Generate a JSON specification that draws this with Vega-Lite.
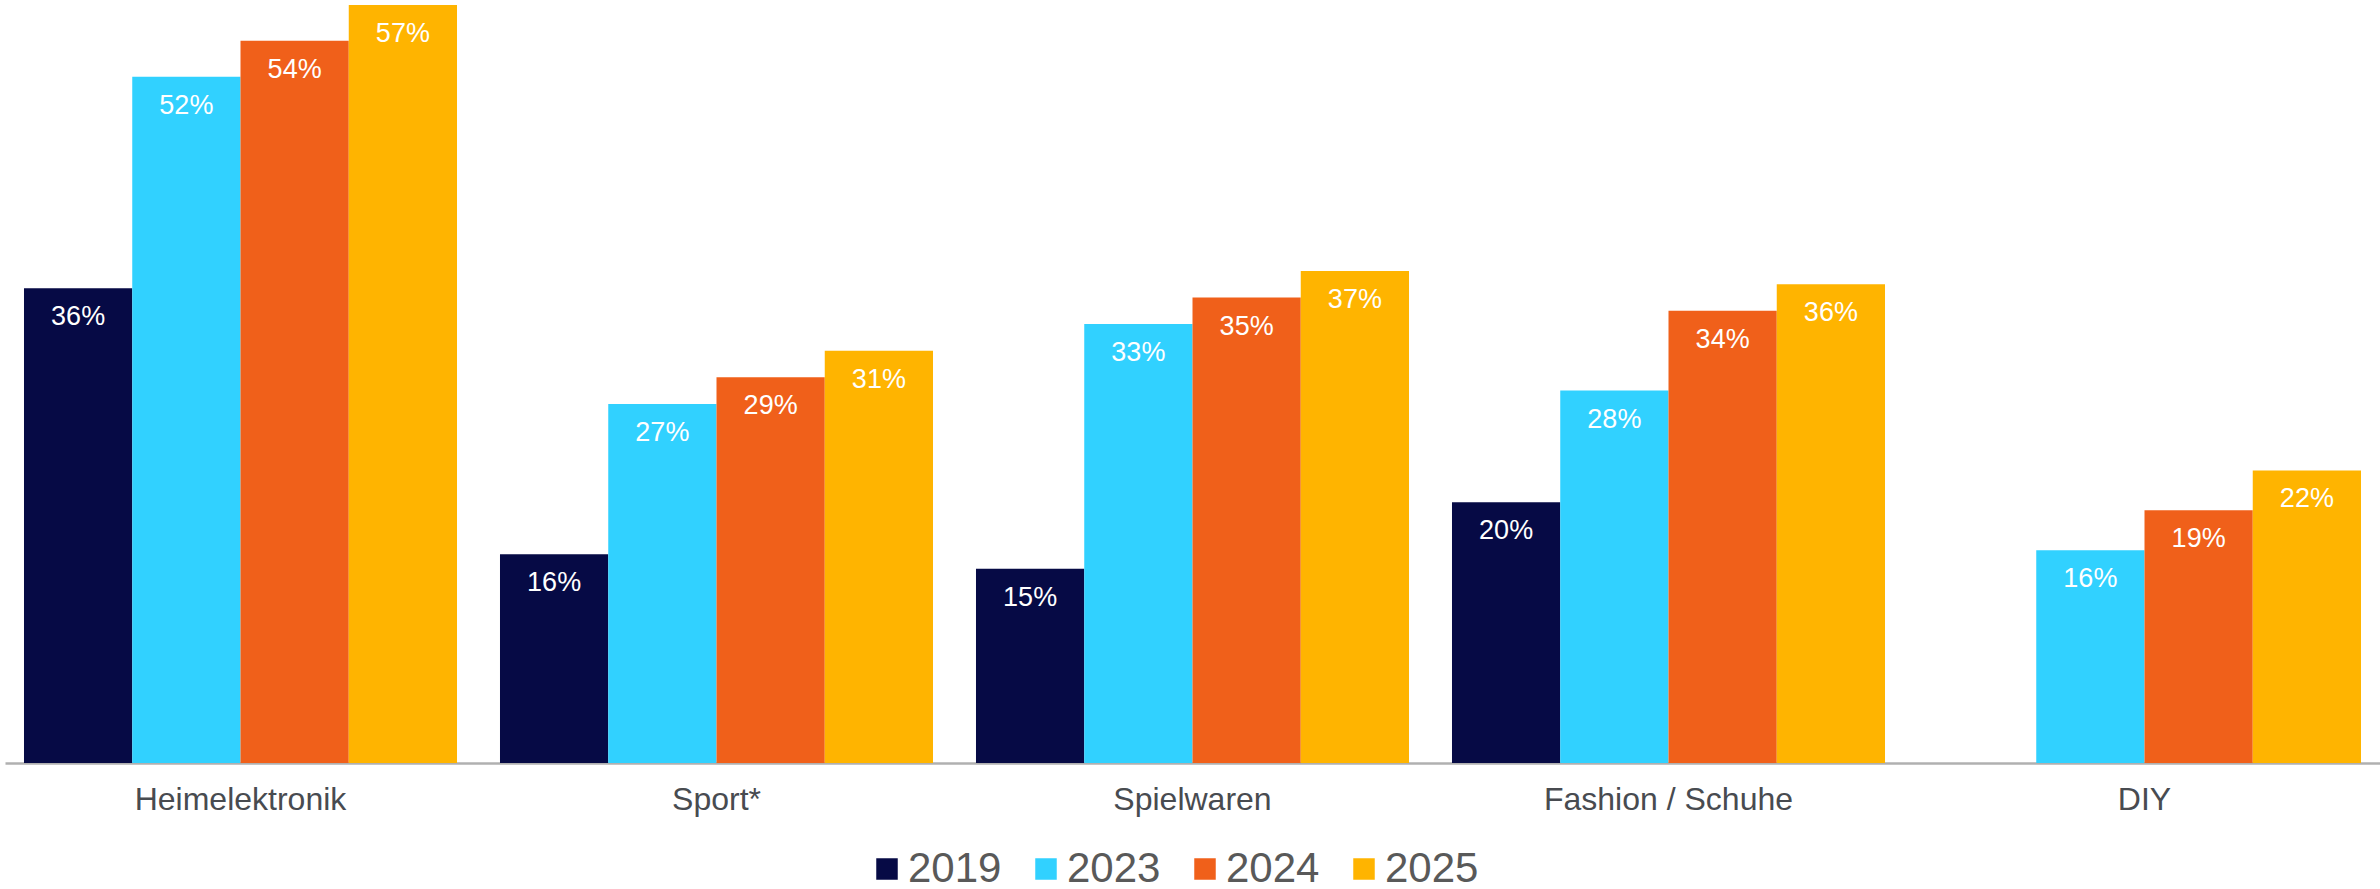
{
  "$schema": "https://vega.github.io/schema/vega-lite/v6.json",
  "width": 2375,
  "height": 763,
  "padding": {"left": 5, "top": 0, "right": 0, "bottom": 0},
  "background": "white",
  "data": {
    "values": [
      {"kategorie": "Heimelektronik", "jahr": "2019", "anteil": 0.357},
      {"kategorie": "Heimelektronik", "jahr": "2023", "anteil": 0.516},
      {"kategorie": "Heimelektronik", "jahr": "2024", "anteil": 0.543},
      {"kategorie": "Heimelektronik", "jahr": "2025", "anteil": 0.570},
      {"kategorie": "Sport*", "jahr": "2019", "anteil": 0.157},
      {"kategorie": "Sport*", "jahr": "2023", "anteil": 0.270},
      {"kategorie": "Sport*", "jahr": "2024", "anteil": 0.290},
      {"kategorie": "Sport*", "jahr": "2025", "anteil": 0.310},
      {"kategorie": "Spielwaren", "jahr": "2019", "anteil": 0.146},
      {"kategorie": "Spielwaren", "jahr": "2023", "anteil": 0.330},
      {"kategorie": "Spielwaren", "jahr": "2024", "anteil": 0.350},
      {"kategorie": "Spielwaren", "jahr": "2025", "anteil": 0.370},
      {"kategorie": "Fashion / Schuhe", "jahr": "2019", "anteil": 0.196},
      {"kategorie": "Fashion / Schuhe", "jahr": "2023", "anteil": 0.280},
      {"kategorie": "Fashion / Schuhe", "jahr": "2024", "anteil": 0.340},
      {"kategorie": "Fashion / Schuhe", "jahr": "2025", "anteil": 0.360},
      {"kategorie": "DIY", "jahr": "2023", "anteil": 0.160},
      {"kategorie": "DIY", "jahr": "2024", "anteil": 0.190},
      {"kategorie": "DIY", "jahr": "2025", "anteil": 0.220}
    ]
  },
  "encoding": {
    "x": {
      "field": "kategorie",
      "type": "nominal",
      "sort": ["Heimelektronik", "Sport*", "Spielwaren", "Fashion / Schuhe", "DIY"],
      "scale": {"paddingInner": 0.0903, "paddingOuter": 0.0399},
      "axis": {
        "title": null,
        "labelAngle": 0,
        "ticks": false,
        "tickSize": 0,
        "labelPadding": 21,
        "labelLimit": 0,
        "domainColor": "#B0B0B0",
        "domainWidth": 2.5,
        "labelFont": "Liberation Sans",
        "labelFontSize": 32,
        "labelColor": "#484B50",
        "grid": false
      }
    },
    "xOffset": {
      "field": "jahr",
      "type": "nominal",
      "sort": ["2019", "2023", "2024", "2025"],
      "scale": {"domain": ["2019", "2023", "2024", "2025"], "paddingInner": 0, "paddingOuter": 0}
    },
    "y": {
      "field": "anteil",
      "type": "quantitative",
      "scale": {"domain": [0, 0.5737], "nice": false, "zero": true},
      "axis": null
    }
  },
  "layer": [
    {
      "mark": {"type": "bar", "strokeWidth": 0},
      "encoding": {
        "color": {
          "field": "jahr",
          "type": "nominal",
          "scale": {
            "domain": ["2019", "2023", "2024", "2025"],
            "range": ["#060A45", "#31D1FF", "#F0601A", "#FFB400"]
          },
          "legend": {
            "title": null,
            "orient": "none",
            "legendX": 861,
            "legendY": 848,
            "direction": "horizontal",
            "symbolType": "square",
            "symbolSize": 462,
            "symbolStrokeWidth": 0,
            "symbolOpacity": 1,
            "labelFont": "Liberation Sans",
            "labelFontSize": 42,
            "labelColor": "#595959",
            "labelOffset": 0,
            "columnPadding": 23,
            "padding": 0
          }
        }
      }
    },
    {
      "mark": {
        "type": "text",
        "color": "white",
        "font": "Liberation Sans",
        "fontSize": 27,
        "baseline": "alphabetic",
        "align": "center",
        "dy": 37
      },
      "encoding": {
        "text": {"field": "anteil", "type": "quantitative", "format": ".0%"}
      }
    }
  ],
  "config": {
    "view": {"stroke": null}
  }
}
